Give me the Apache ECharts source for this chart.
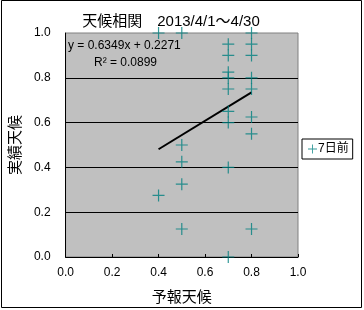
<!DOCTYPE html>
<html><head><meta charset="utf-8">
<script src="https://cdn.jsdelivr.net/npm/echarts@6/dist/echarts.min.js"></script>
<style>html,body{margin:0;padding:0;background:#fff}#c{width:364px;height:310px}</style>
</head><body><div id="c"></div>
<script>
// data
const forecast = [0.4,0.4, 0.5,0.5,0.5,0.5,0.5, 0.7,0.7,0.7,0.7,0.7,0.7,0.7,0.7,0.7, 0.8,0.8,0.8,0.8,0.8,0.8,0.8,0.8];
const actual   = [1.0,0.275, 1.0,0.5,0.425,0.325,0.125, 0.95,0.9,0.825,0.8,0.75,0.65,0.6,0.4,0.0, 1.0,0.95,0.9,0.8,0.75,0.625,0.55,0.125];
const seriesName = '7日前';
const slope = 0.6349, intercept = 0.2271, r2 = 0.0899;
const trendX = [0.4, 0.8];
const axisTicks = [0, 0.2, 0.4, 0.6, 0.8, 1.0];
const titleText = '天候相関　2013/4/1～4/30';
const xName = '予報天候', yName = '実績天候';

const points = forecast.map((x,i)=>[x, actual[i]]);
const trend = trendX.map(x=>[x, slope*x+intercept]);
const plus = 'path://M0,5.4 L12,5.4 L12,6.6 L0,6.6 Z M5.4,0 L6.6,0 L6.6,12 L5.4,12 Z';
const font = '"Liberation Sans", Arial, "Noto Sans CJK JP", sans-serif';

const chart = echarts.init(document.getElementById('c'), null, {renderer:'canvas'});
chart.setOption({
  animation:false,
  backgroundColor:'#fff',
  textStyle:{fontFamily:font},
  title:{text:titleText, left:166, top:9, textAlign:'center',
    textStyle:{fontSize:15, fontWeight:'normal', color:'#000', fontFamily:font}},
  grid:{left:64, top:33, width:234, height:225, show:true, backgroundColor:'#c0c0c0', borderColor:'#808080', borderWidth:1},
  legend:{left:302, top:139, orient:'vertical', padding:[4,4,4,6], borderColor:'#000', borderWidth:1, backgroundColor:'#fff',
    itemWidth:9, itemHeight:9, icon:plus, data:[seriesName],
    textStyle:{fontSize:12, color:'#000', fontFamily:font, padding:[0,0,0,-4]}},
  xAxis:{type:'value', min:0, max:1, interval:0.2, name:xName, nameLocation:'middle', nameGap:33,
    nameTextStyle:{fontSize:15, color:'#000', fontFamily:font},
    axisLine:{show:true, lineStyle:{color:'#000', width:1}},
    axisTick:{show:true, inside:true, length:3, lineStyle:{color:'#000'}},
    axisLabel:{fontSize:12, color:'#000', margin:10, formatter:v=>v.toFixed(1), fontFamily:font},
    splitLine:{show:false}},
  yAxis:{type:'value', min:0, max:1, interval:0.2, name:yName, nameLocation:'middle', nameGap:40, nameRotate:90,
    nameTextStyle:{fontSize:15, color:'#000', fontFamily:font},
    axisLine:{show:true, lineStyle:{color:'#000', width:1}},
    axisTick:{show:false},
    axisLabel:{fontSize:12, color:'#000', margin:15, formatter:v=>v.toFixed(1), fontFamily:font},
    splitLine:{show:true, showMinLine:false, showMaxLine:false, lineStyle:{color:'#000', width:1}}},
  series:[
    {type:'line', data:trend, symbol:'none', lineStyle:{color:'#000', width:2}, silent:true, z:3, legendHoverLink:false},
    {name:seriesName, type:'scatter', data:points, symbol:plus, symbolSize:12, itemStyle:{color:'#008080'}, z:4}
  ],
  graphic:[
    {type:'rect', shape:{x:1.5, y:0.5, width:360, height:307}, style:{fill:null, stroke:'#000', lineWidth:1}, silent:true},
    {type:'text', left:68, top:40, style:{text:'y = '+slope+'x + '+intercept, fontSize:12, fill:'#000', font:'12px '+font}},
    {type:'text', left:94, top:57, style:{text:'R² = '+r2, fontSize:12, fill:'#000', font:'12px '+font}}
  ]
});
</script></body></html>
